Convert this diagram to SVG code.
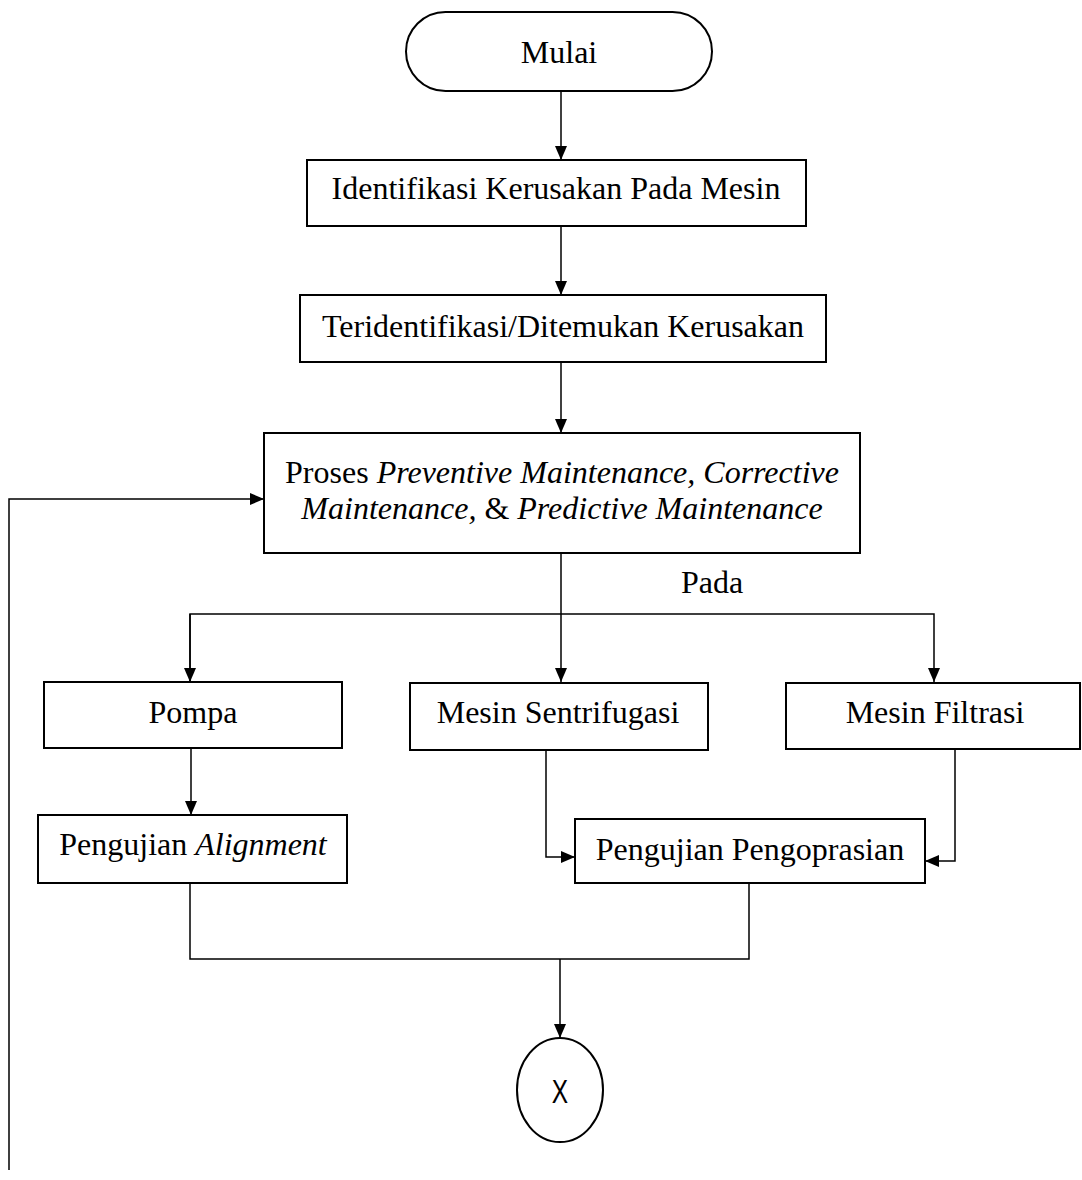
<svg xmlns="http://www.w3.org/2000/svg" width="1082" height="1180" viewBox="0 0 1082 1180">
  <style>
    .box { fill: #fff; stroke: #000; stroke-width: 2; }
    .edge { fill: none; stroke: #000; stroke-width: 1.5; }
    .lbl { font-family: "Liberation Serif", "Times New Roman", serif; font-size: 32px; fill: #000; text-anchor: middle; }
    .it { font-style: italic; }
    .sans { font-family: "Liberation Sans", Arial, sans-serif; font-size: 34px; fill: #000; text-anchor: middle; }
  </style>
  <defs>
    <marker id="arrow" markerUnits="userSpaceOnUse" markerWidth="14" markerHeight="14" viewBox="0 0 14 14" refX="14" refY="7" orient="auto">
      <path d="M0,1 L14,7 L0,13 Z" fill="#000"/>
    </marker>
  </defs>

  <rect width="1082" height="1180" fill="#fff"/>

  <!-- connectors -->
  <g id="connectors">
    <line class="edge" x1="561" y1="91" x2="561" y2="160" marker-end="url(#arrow)"/>
    <line class="edge" x1="561" y1="226" x2="561" y2="295" marker-end="url(#arrow)"/>
    <line class="edge" x1="561" y1="362" x2="561" y2="433" marker-end="url(#arrow)"/>
    <!-- fan-out below the maintenance process -->
    <line class="edge" x1="561" y1="553" x2="561" y2="682" marker-end="url(#arrow)"/>
    <path class="edge" d="M190,682 L190,614 L934,614 L934,682" marker-end="url(#arrow)"/>
    <path class="edge" d="M190,614 L190,682" marker-end="url(#arrow)"/>
    <line class="edge" x1="191" y1="748" x2="191" y2="815" marker-end="url(#arrow)"/>
    <path class="edge" d="M546,750 L546,857 L575,857" marker-end="url(#arrow)"/>
    <path class="edge" d="M955,749 L955,861 L925,861" marker-end="url(#arrow)"/>
    <!-- merge towards the connector circle -->
    <path class="edge" d="M190,883 L190,959 L749,959 L749,883"/>
    <line class="edge" x1="560" y1="959" x2="560" y2="1038" marker-end="url(#arrow)"/>
    <!-- feedback loop on the left -->
    <path class="edge" d="M9,1170 L9,499 L264,499" marker-end="url(#arrow)"/>
    <text class="lbl" x="712" y="593">Pada</text>
  </g>

  <g id="mulai">
    <rect class="box" x="406" y="12" width="306" height="79" rx="39.5" ry="39.5"/>
    <text class="lbl" x="559" y="63">Mulai</text>
  </g>

  <g id="identifikasi">
    <rect class="box" x="307" y="160" width="499" height="66"/>
    <text class="lbl" x="556" y="199">Identifikasi Kerusakan Pada Mesin</text>
  </g>

  <g id="teridentifikasi">
    <rect class="box" x="300" y="295" width="526" height="67"/>
    <text class="lbl" x="563" y="337">Teridentifikasi/Ditemukan Kerusakan</text>
  </g>

  <g id="proses">
    <rect class="box" x="264" y="433" width="596" height="120"/>
    <text class="lbl" x="562" y="483">Proses <tspan class="it">Preventive Maintenance, Corrective</tspan></text>
    <text class="lbl" x="562" y="519"><tspan class="it">Maintenance, </tspan>&amp;<tspan class="it"> Predictive Maintenance</tspan></text>
  </g>

  <g id="pompa">
    <rect class="box" x="44" y="682" width="298" height="66"/>
    <text class="lbl" x="193" y="723">Pompa</text>
  </g>

  <g id="sentrifugasi">
    <rect class="box" x="410" y="683" width="298" height="67"/>
    <text class="lbl" x="558" y="723">Mesin Sentrifugasi</text>
  </g>

  <g id="filtrasi">
    <rect class="box" x="786" y="683" width="294" height="66"/>
    <text class="lbl" x="935" y="723">Mesin Filtrasi</text>
  </g>

  <g id="alignment">
    <rect class="box" x="38" y="815" width="309" height="68"/>
    <text class="lbl" x="193" y="855">Pengujian <tspan class="it">Alignment</tspan></text>
  </g>

  <g id="pengoprasian">
    <rect class="box" x="575" y="819" width="350" height="64"/>
    <text class="lbl" x="750" y="860">Pengujian Pengoprasian</text>
  </g>

  <g id="konektor-x">
    <ellipse class="box" cx="560" cy="1090" rx="43" ry="52"/>
    <text class="sans" transform="translate(560,1103) scale(0.72,1)" x="0" y="0">X</text>
  </g>
</svg>
